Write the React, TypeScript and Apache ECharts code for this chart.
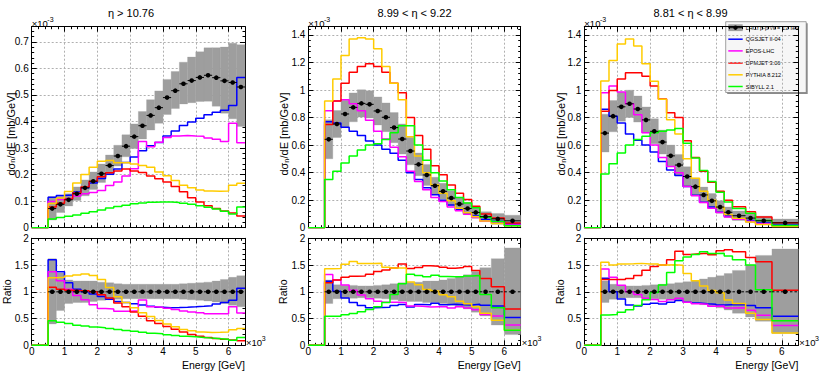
import React, { useEffect, useRef } from "react";
import * as echarts from "echarts";

const FONT = '"Liberation Sans", Arial, Helvetica, sans-serif';

const EDGES_A = [500, 750, 1000, 1250, 1500, 1750, 2000, 2250, 2500, 2750, 3000, 3250, 3500, 3750, 4000, 4250, 4500, 4750, 5000, 5250, 5500, 5750, 6000, 6250, 6500];
const EDGES_B = [500, 750, 1000, 1250, 1500, 1750, 2000, 2250, 2500, 2750, 3000, 3250, 3500, 3750, 4000, 4250, 4500, 4750, 5000, 5250, 5600, 6000, 6500];
const EDGES_C = [500, 750, 1000, 1250, 1500, 1750, 2000, 2250, 2500, 2750, 3000, 3250, 3500, 3750, 4000, 4250, 4500, 4900, 5200, 5700, 6500];

const DATA_A = [0.072, 0.088, 0.105, 0.128, 0.150, 0.175, 0.203, 0.234, 0.270, 0.307, 0.343, 0.384, 0.423, 0.452, 0.490, 0.516, 0.542, 0.554, 0.566, 0.574, 0.565, 0.553, 0.547, 0.530];
const SYS_HI_A = [1.62, 1.35, 1.22, 1.20, 1.20, 1.20, 1.18, 1.17, 1.15, 1.14, 1.14, 1.14, 1.14, 1.14, 1.14, 1.14, 1.15, 1.16, 1.17, 1.18, 1.20, 1.23, 1.27, 1.30];
const SYS_LO_A = [0.40, 0.65, 0.78, 0.80, 0.80, 0.82, 0.84, 0.85, 0.86, 0.87, 0.87, 0.87, 0.87, 0.87, 0.87, 0.87, 0.86, 0.85, 0.84, 0.83, 0.81, 0.78, 0.75, 0.72];
const QGS_A = [0.115, 0.121, 0.123, 0.134, 0.150, 0.168, 0.185, 0.201, 0.221, 0.246, 0.266, 0.290, 0.309, 0.321, 0.345, 0.364, 0.385, 0.398, 0.412, 0.425, 0.435, 0.442, 0.460, 0.566];
const EPOS_A = [0.099, 0.106, 0.110, 0.119, 0.128, 0.133, 0.140, 0.159, 0.172, 0.195, 0.222, 0.325, 0.305, 0.322, 0.340, 0.345, 0.347, 0.345, 0.344, 0.338, 0.333, 0.325, 0.393, 0.320];
const DPM_A = [0.078, 0.092, 0.108, 0.131, 0.153, 0.175, 0.192, 0.207, 0.214, 0.221, 0.214, 0.208, 0.195, 0.184, 0.172, 0.155, 0.135, 0.113, 0.097, 0.083, 0.072, 0.063, 0.055, 0.044];
const PYT_A = [0.091, 0.112, 0.136, 0.168, 0.200, 0.228, 0.250, 0.253, 0.245, 0.246, 0.240, 0.234, 0.228, 0.210, 0.196, 0.178, 0.160, 0.150, 0.142, 0.138, 0.137, 0.138, 0.160, 0.167];
const SIB_A = [0.033, 0.038, 0.043, 0.048, 0.054, 0.060, 0.067, 0.074, 0.080, 0.085, 0.090, 0.093, 0.096, 0.097, 0.097, 0.095, 0.092, 0.088, 0.083, 0.077, 0.070, 0.062, 0.052, 0.078];

const DATA_B = [0.642, 0.753, 0.826, 0.874, 0.903, 0.896, 0.848, 0.802, 0.727, 0.644, 0.557, 0.460, 0.383, 0.305, 0.264, 0.215, 0.172, 0.139, 0.111, 0.080, 0.064, 0.050];
const SYS_HI_B = [1.22, 1.13, 1.12, 1.12, 1.11, 1.11, 1.12, 1.13, 1.15, 1.17, 1.18, 1.18, 1.20, 1.20, 1.22, 1.25, 1.28, 1.32, 1.38, 1.45, 1.62, 1.82];
const SYS_LO_B = [0.78, 0.87, 0.88, 0.88, 0.89, 0.89, 0.88, 0.87, 0.85, 0.83, 0.82, 0.82, 0.80, 0.80, 0.78, 0.75, 0.72, 0.68, 0.62, 0.55, 0.38, 0.20];
const QGS_B = [0.77, 0.76, 0.73, 0.70, 0.67, 0.63, 0.60, 0.57, 0.54, 0.49, 0.40, 0.35, 0.29, 0.24, 0.20, 0.165, 0.13, 0.105, 0.085, 0.060, 0.047, 0.026];
const EPOS_B = [0.85, 0.92, 0.93, 0.90, 0.85, 0.78, 0.70, 0.645, 0.585, 0.515, 0.41, 0.335, 0.275, 0.22, 0.19, 0.15, 0.124, 0.097, 0.074, 0.046, 0.035, 0.019];
const DPM_B = [0.75, 0.92, 1.05, 1.13, 1.17, 1.19, 1.17, 1.13, 1.05, 0.98, 0.80, 0.67, 0.57, 0.45, 0.385, 0.31, 0.25, 0.205, 0.155, 0.10, 0.07, 0.034];
const PYT_B = [0.92, 1.08, 1.25, 1.37, 1.38, 1.37, 1.30, 1.17, 1.05, 0.93, 0.66, 0.52, 0.40, 0.31, 0.25, 0.195, 0.142, 0.108, 0.080, 0.048, 0.030, 0.014];
const SIB_B = [0.35, 0.41, 0.47, 0.52, 0.565, 0.60, 0.61, 0.64, 0.69, 0.74, 0.74, 0.60, 0.49, 0.40, 0.34, 0.275, 0.22, 0.18, 0.145, 0.076, 0.045, 0.014];

const DATA_C = [0.687, 0.810, 0.878, 0.900, 0.862, 0.783, 0.700, 0.622, 0.522, 0.455, 0.372, 0.298, 0.238, 0.195, 0.150, 0.112, 0.087, 0.070, 0.050, 0.035];
const SYS_HI_C = [1.20, 1.14, 1.12, 1.11, 1.11, 1.12, 1.13, 1.14, 1.15, 1.17, 1.19, 1.21, 1.24, 1.27, 1.30, 1.34, 1.40, 1.50, 1.68, 1.80];
const SYS_LO_C = [0.80, 0.86, 0.88, 0.89, 0.89, 0.88, 0.87, 0.86, 0.85, 0.83, 0.81, 0.79, 0.76, 0.73, 0.70, 0.66, 0.60, 0.53, 0.45, 0.22];
const QGS_C = [0.86, 0.81, 0.76, 0.68, 0.635, 0.60, 0.55, 0.48, 0.42, 0.38, 0.30, 0.235, 0.185, 0.15, 0.113, 0.085, 0.066, 0.052, 0.035, 0.019];
const EPOS_C = [0.98, 1.03, 0.985, 0.90, 0.82, 0.69, 0.60, 0.51, 0.445, 0.40, 0.30, 0.232, 0.183, 0.142, 0.11, 0.078, 0.061, 0.046, 0.028, 0.013];
const DPM_C = [0.845, 0.996, 1.08, 1.125, 1.125, 1.10, 1.03, 0.935, 0.835, 0.80, 0.632, 0.51, 0.41, 0.33, 0.265, 0.20, 0.152, 0.115, 0.078, 0.036];
const PYT_C = [1.065, 1.215, 1.335, 1.37, 1.32, 1.19, 1.064, 0.933, 0.785, 0.68, 0.50, 0.36, 0.264, 0.20, 0.147, 0.095, 0.068, 0.042, 0.024, 0.008];
const SIB_C = [0.39, 0.465, 0.543, 0.60, 0.64, 0.665, 0.69, 0.70, 0.71, 0.72, 0.614, 0.506, 0.416, 0.335, 0.258, 0.187, 0.139, 0.105, 0.052, 0.016];

const PANEL_TITLES = ["η > 10.76", "8.99 < η < 9.22", "8.81 < η < 8.99"];
const X_TITLE = "Energy [GeV]";
const DATA_NAME = "LHCf p-p √s = 13 TeV";
const MODEL_NAMES = ["QGSJET II-04", "EPOS-LHC", "DPMJET 3.06", "PYTHIA 8.212", "SIBYLL 2.1"];
const MODEL_COLORS = ["#0000ff", "#ff00ff", "#ff0000", "#ffcc00", "#00ff00"];
const BAND_COLOR = "#9e9e9e";

const PANELS = [
  { left: 31.7, width: 213.3, titleX: 131, yMax: 0.757, yStep: 0.1, edges: EDGES_A, data: DATA_A, hi: SYS_HI_A, lo: SYS_LO_A, models: [QGS_A, EPOS_A, DPM_A, PYT_A, SIB_A], yTitleX: 10.5, ratioTitleX: 7 },
  { left: 308.3, width: 212.4, titleX: 414.5, yMax: 1.46, yStep: 0.2, edges: EDGES_B, data: DATA_B, hi: SYS_HI_B, lo: SYS_LO_B, models: [QGS_B, EPOS_B, DPM_B, PYT_B, SIB_B], yTitleX: 284, ratioTitleX: 282.5 },
  { left: 584.3, width: 214, titleX: 690.5, yMax: 1.46, yStep: 0.2, edges: EDGES_C, data: DATA_C, hi: SYS_HI_C, lo: SYS_LO_C, models: [QGS_C, EPOS_C, DPM_C, PYT_C, SIB_C], yTitleX: 561, ratioTitleX: 559.5 },
];

const W_TOTAL = 830, H_TOTAL = 377;
const UP_TOP = 26.7, UP_H = 201, LO_TOP = 238.3, LO_H = 107;

function stepLine(edges: number[], vals: number[]) {
  const pts: number[][] = [[0, 0], [edges[0], 0]];
  vals.forEach((v, i) => {
    pts.push([edges[i], v], [edges[i + 1], v]);
  });
  return pts;
}

const multipleFmt = (step: number) => (v: number) => {
  const k = v / step;
  if (Math.abs(k - Math.round(k)) > 1e-6) return "";
  return String(Math.round(v * 1000) / 1000);
};

function buildOption() {
  const grids: any[] = [];
  const xAxes: any[] = [];
  const yAxes: any[] = [];
  const series: any[] = [];
  const graphics: any[] = [];

  const tickCommon = {
    axisLine: { show: true, onZero: false, lineStyle: { color: "#000", width: 1 } },
    axisTick: { show: true, inside: true, length: 5, lineStyle: { color: "#000", width: 1 } },
  };

  PANELS.forEach((p, pi) => {
    [false, true].forEach((isRatio) => {
      const gi = grids.length;
      grids.push({
        left: p.left, width: p.width,
        top: isRatio ? LO_TOP : UP_TOP, height: isRatio ? LO_H : UP_H,
        containLabel: false, outerBoundsMode: "none",
      });
      const xBase = {
        type: "value", gridIndex: gi, min: 0, max: 6500, interval: 1000,
        ...tickCommon,
        minorTick: { show: true, splitNumber: 5, length: 2.5, lineStyle: { color: "#000" } },
      };
      xAxes.push({
        ...xBase, position: "bottom",
        splitLine: { show: true, lineStyle: { color: "#b0b0b0", type: [2, 2], width: 1 } },
        axisLabel: {
          show: isRatio, color: "#000", fontSize: 10, fontFamily: FONT, margin: 1.5,
          formatter: (v: number) => (v % 1000 === 0 ? String(v / 1000) : ""),
        },
      });
      xAxes.push({ ...xBase, position: "top", splitLine: { show: false }, axisLabel: { show: false } });

      const yMax = isRatio ? 2 : p.yMax;
      const yStep = isRatio ? 0.5 : p.yStep;
      const yBase = {
        type: "value", gridIndex: gi, min: 0, max: yMax, interval: yStep,
        ...tickCommon,
        minorTick: { show: true, splitNumber: 5, length: 2.5, lineStyle: { color: "#000" } },
      };
      yAxes.push({
        ...yBase, position: "left",
        splitLine: { show: true, lineStyle: { color: "#b0b0b0", type: [2, 2], width: 1 } },
        axisLabel: { show: true, color: "#000", fontSize: 10, fontFamily: FONT, margin: 3, formatter: multipleFmt(yStep) },
      });
      yAxes.push({ ...yBase, position: "right", splitLine: { show: false }, axisLabel: { show: false } });

      const xi = 2 * gi, yi = 2 * gi;

      const bandData = p.data.map((d, i) => {
        const scale = isRatio ? 1 : d;
        return [p.edges[i], p.edges[i + 1], p.lo[i] * scale, p.hi[i] * scale];
      });
      series.push({
        type: "custom", name: DATA_NAME + " syst", xAxisIndex: xi, yAxisIndex: yi, z: 2, silent: true, clip: true,
        data: bandData, encode: { x: [0, 1], y: [2, 3] },
        renderItem: (_params: any, api: any) => {
          const a = api.coord([api.value(0), api.value(3)]);
          const b = api.coord([api.value(1), api.value(2)]);
          return {
            type: "rect",
            shape: { x: a[0], y: a[1], width: b[0] - a[0], height: b[1] - a[1] },
            style: { fill: BAND_COLOR, stroke: BAND_COLOR, lineWidth: 0.3 },
          };
        },
      });

      p.models.forEach((vals, mi) => {
        const shown = isRatio ? vals.map((v, i) => v / p.data[i]) : vals;
        series.push({
          type: "line", name: MODEL_NAMES[mi], xAxisIndex: xi, yAxisIndex: yi, z: 3,
          data: stepLine(p.edges, shown), symbol: "none", showSymbol: false, silent: true, clip: true,
          lineStyle: { color: MODEL_COLORS[mi], width: 1.5 },
        });
      });

      const ptData = p.data.map((d, i) => [p.edges[i], p.edges[i + 1], isRatio ? d / d : d]);
      series.push({
        type: "custom", name: DATA_NAME, xAxisIndex: xi, yAxisIndex: yi, z: 4, silent: true, clip: true,
        data: ptData, encode: { x: [0, 1], y: 2 },
        renderItem: (_params: any, api: any) => {
          const x0 = api.value(0), x1 = api.value(1), y = api.value(2);
          const a = api.coord([x0, y]);
          const b = api.coord([x1, y]);
          const c = api.coord([(x0 + x1) / 2, y]);
          return {
            type: "group",
            children: [
              {
                type: "line", shape: { x1: a[0], y1: a[1], x2: b[0], y2: b[1] },
                style: { stroke: "#000", lineWidth: 1, lineDash: isRatio ? [2.5, 2] : null },
              },
              { type: "circle", shape: { cx: c[0], cy: c[1], r: 2.3 }, style: { fill: "#000" } },
            ],
          };
        },
      });
    });

    const right = p.left + p.width;
    graphics.push({
      type: "group", id: "xtitleGroup" + pi, x: right, y: 364.5,
      children: [
        {
          type: "text", x: 0, y: 0,
          style: { text: X_TITLE, fontSize: 10.5, fontFamily: FONT, fill: "#000", align: "right", verticalAlign: "middle" },
        },
      ],
    });
    graphics.push({
      type: "text", id: "title" + pi, x: p.titleX, y: 12.5,
      style: { text: PANEL_TITLES[pi], fontSize: 11, fontFamily: FONT, fill: "#000", align: "center", verticalAlign: "middle" },
    });
    graphics.push({
      type: "text", id: "exp3a" + pi, x: p.left, y: 23.2,
      style: { text: "×10", fontSize: 9.5, fontFamily: FONT, fill: "#000", align: "left", verticalAlign: "middle" },
    });
    graphics.push({
      type: "text", id: "exp3b" + pi, x: p.left + 15.6, y: 19.6,
      style: { text: "-3", fontSize: 7, fontFamily: FONT, fill: "#000", align: "left", verticalAlign: "middle" },
    });
    graphics.push({
      type: "text", id: "expxa" + pi, x: right + 1, y: 342,
      style: { text: "×10", fontSize: 9.5, fontFamily: FONT, fill: "#000", align: "left", verticalAlign: "middle" },
    });
    graphics.push({
      type: "text", id: "expxb" + pi, x: right + 16.8, y: 338.3,
      style: { text: "3", fontSize: 7, fontFamily: FONT, fill: "#000", align: "left", verticalAlign: "middle" },
    });
    graphics.push({
      type: "text", id: "ytitle" + pi, x: p.yTitleX, y: 134, rotation: Math.PI / 2,
      style: {
        text: "dσ{sub|n}/dE [mb/GeV]", fontSize: 11, fontFamily: FONT, fill: "#000",
        align: "center", verticalAlign: "middle",
        rich: { sub: { fontSize: 7.5, fontFamily: FONT, fill: "#000", verticalAlign: "bottom", padding: [4, 0, 0, 0] } },
      },
    });
    graphics.push({
      type: "text", id: "rtitle" + pi, x: p.ratioTitleX, y: 291.7, rotation: Math.PI / 2,
      style: { text: "Ratio", fontSize: 10.5, fontFamily: FONT, fill: "#000", align: "center", verticalAlign: "middle" },
    });
  });

  const LX = 725.7, LY = 21.7, LW = 80.5, LH = 70.8;
  const rowsY = [27.7, 39.2, 50.9, 63.0, 74.8, 86.5];
  const sx0 = 728.3, sx1 = 742.7, tx = 745.7;
  const legend: any[] = [
    { type: "rect", shape: { x: LX + 1.5, y: LY + 1.5, width: LW, height: LH }, style: { fill: "#8a8a8a" } },
    { type: "rect", shape: { x: LX, y: LY, width: LW, height: LH }, style: { fill: "#f6f6f6", stroke: "#7a7a7a", lineWidth: 0.7 } },
    { type: "rect", shape: { x: sx0, y: rowsY[0] - 3.4, width: sx1 - sx0, height: 6.8 }, style: { fill: BAND_COLOR } },
    { type: "line", shape: { x1: sx0, y1: rowsY[0], x2: sx1, y2: rowsY[0] }, style: { stroke: "#000", lineWidth: 1 } },
    { type: "circle", shape: { cx: (sx0 + sx1) / 2, cy: rowsY[0], r: 2.2 }, style: { fill: "#000" } },
    { type: "text", x: tx, y: rowsY[0], style: { text: DATA_NAME, fontSize: 5.6, fontFamily: FONT, fill: "#000", align: "left", verticalAlign: "middle" } },
  ];
  MODEL_NAMES.forEach((n, i) => {
    const y = rowsY[i + 1];
    legend.push({ type: "line", shape: { x1: sx0, y1: y, x2: sx1, y2: y }, style: { stroke: MODEL_COLORS[i], lineWidth: 1.5 } });
    legend.push({ type: "text", x: tx, y, style: { text: n, fontSize: 5.6, fontFamily: FONT, fill: "#000", align: "left", verticalAlign: "middle" } });
  });
  graphics.push({ type: "group", id: "legend", z: 100, children: legend });

  return {
    animation: false,
    backgroundColor: "#ffffff",
    textStyle: { fontFamily: FONT },
    grid: grids,
    xAxis: xAxes,
    yAxis: yAxes,
    series,
    graphic: { elements: graphics },
  };
}

export default function App() {
  const ref = useRef<HTMLDivElement>(null);
  useEffect(() => {
    if (!ref.current) return;
    const chart = echarts.init(ref.current, null, { renderer: "svg" });
    chart.setOption(buildOption() as any);
    return () => chart.dispose();
  }, []);
  return (
    <div
      ref={ref}
      style={{ position: "fixed", left: 0, top: 0, width: W_TOTAL, height: H_TOTAL, background: "#fff" }}
    />
  );
}
